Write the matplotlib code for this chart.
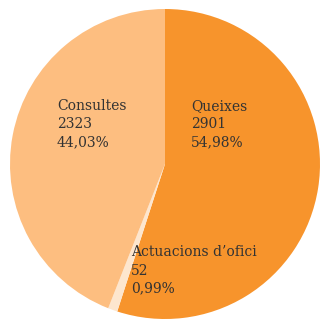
import matplotlib
matplotlib.use("Agg")
import matplotlib.pyplot as plt

categories = ["Queixes", "Actuacions d\u2019ofici", "Consultes"]
values = [2901, 52, 2323]
percent_labels = ["54,98%", "0,99%", "44,03%"]
colors = ["#F7942C", "#FDE6CE", "#FDBE80"]

fig = plt.figure(figsize=(3.26, 3.19), dpi=100)
ax = fig.add_axes([0, 0, 1, 1])
ax.pie(values, colors=colors, startangle=90, counterclock=False,
       radius=1, center=(0, 0), wedgeprops=dict(linewidth=0))
ax.set_xlim(-165 / 155, (326 - 165) / 155)
ax.set_ylim((164 - 319) / 155, 164 / 155)
ax.set_aspect("auto")
ax.axis("off")

label_pos = [(0.168, 0.42), (-0.219, -0.525), (-0.697, 0.42)]
for (x, y), cat, v, p in zip(label_pos, categories, values, percent_labels):
    ax.text(x, y, f"{cat}\n{v}\n{p}", ha="left", va="top",
            fontsize=10, family="DejaVu Serif", color="#333333",
            linespacing=1.38)

fig.savefig("out.png", dpi=100)
